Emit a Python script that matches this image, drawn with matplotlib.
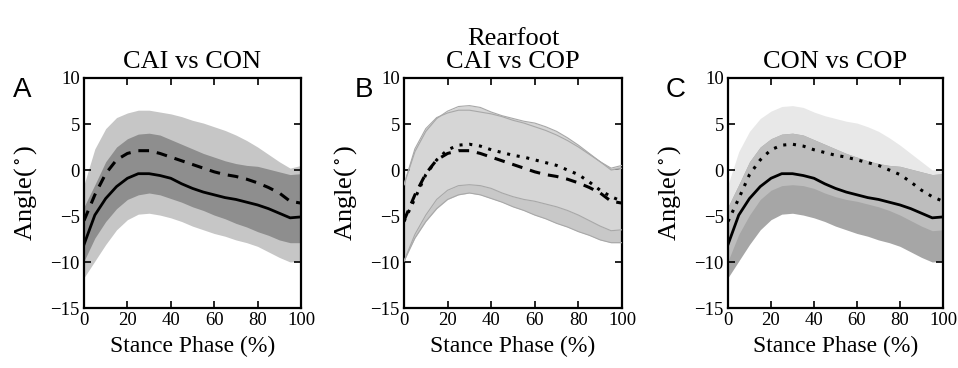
import numpy as np
import matplotlib
matplotlib.use('Agg')
import matplotlib.pyplot as plt

plt.rcParams['font.family'] = ['Liberation Serif', 'DejaVu Serif']
plt.rcParams['mathtext.fontset'] = 'stix'

# stance phase (%)
phase = [0, 5, 10, 15, 20, 25, 30, 35, 40, 45, 50, 55, 60, 65, 70, 75, 80, 85, 90, 95, 100]

# CON group (mean and +/- SD edges)
con_mean = [-8.1, -4.9, -3.1, -1.8, -0.9, -0.4, -0.4, -0.6, -0.9, -1.5, -2.0, -2.4, -2.7, -3.0, -3.2, -3.5, -3.8, -4.2, -4.7, -5.2, -5.1]
con_upper = [-4.0, -1.6, 0.9, 2.5, 3.4, 3.9, 4.0, 3.8, 3.3, 2.8, 2.3, 1.8, 1.4, 1.0, 0.7, 0.5, 0.4, 0.1, -0.2, -0.5, -0.4]
con_lower = [-11.7, -9.9, -8.1, -6.5, -5.4, -4.8, -4.7, -4.9, -5.2, -5.6, -6.1, -6.5, -6.9, -7.2, -7.6, -7.9, -8.3, -8.9, -9.5, -10.0, -9.9]

# CAI group
cai_mean = [-5.5, -2.7, -0.4, 1.1, 1.8, 2.1, 2.1, 1.8, 1.4, 1.0, 0.6, 0.2, -0.2, -0.5, -0.7, -1.0, -1.4, -1.9, -2.5, -3.4, -3.6]
cai_upper = [-1.6, 2.3, 4.5, 5.7, 6.2, 6.5, 6.5, 6.3, 6.1, 5.8, 5.4, 5.1, 4.7, 4.3, 3.8, 3.2, 2.5, 1.7, 0.9, 0.2, 0.5]
cai_lower = [-9.9, -7.4, -5.6, -4.2, -3.2, -2.7, -2.5, -2.7, -3.1, -3.5, -4.0, -4.4, -4.9, -5.3, -5.8, -6.2, -6.7, -7.1, -7.6, -7.9, -7.9]

# COP group
cop_mean = [-5.6, -3.1, -0.5, 1.1, 2.2, 2.7, 2.8, 2.6, 2.2, 1.9, 1.6, 1.4, 1.1, 0.8, 0.5, 0.0, -0.5, -1.3, -2.2, -2.9, -3.4]
cop_upper = [-1.6, 2.0, 4.2, 5.6, 6.4, 6.9, 7.0, 6.8, 6.3, 5.9, 5.6, 5.3, 5.1, 4.7, 4.2, 3.5, 2.7, 1.8, 0.9, 0.0, 0.2]
cop_lower = [-9.9, -7.0, -4.9, -3.2, -2.2, -1.7, -1.6, -1.7, -2.0, -2.5, -2.9, -3.2, -3.4, -3.7, -4.0, -4.4, -4.9, -5.5, -6.1, -6.6, -6.5]

titles = ['CAI vs CON', 'Rearfoot\nCAI vs COP', 'CON vs COP']
letters = ['A', 'B', 'C']

W, H = 958, 368
fig = plt.figure(figsize=(W / 100, H / 100), dpi=100)

def px_axes(left, right, top, bottom):
    return fig.add_axes([left / W, 1 - bottom / H, (right - left) / W, (bottom - top) / H])

styles = {
    'CON': dict(color='black', lw=2.0, ls='-'),
    'CAI': dict(color='black', lw=2.2, ls=(0, (3.5, 2.6))),
    'COP': dict(color='black', lw=2.2, ls=(0, (1, 2.2))),
}
groups = {
    'CON': (con_mean, con_upper, con_lower),
    'CAI': (cai_mean, cai_upper, cai_lower),
    'COP': (cop_mean, cop_upper, cop_lower),
}

# (group1, group2, color1 only, color2 only, overlap colour, edge colour)
panels = [
    ('CAI', 'CON', '#c6c6c6', '#c6c6c6', '#8e8e8e', None),
    ('CAI', 'COP', '#c8c8c8', '#d6d6d6', '#d6d6d6', '#a8a8a8'),
    ('COP', 'CON', '#e8e8e8', '#a6a6a6', '#bdbdbd', None),
]
boxes = [(84, 301, 78, 308), (404, 622, 78, 308), (728, 943, 78, 308)]
letter_pos = [(22, 90), (364, 90), (676, 90)]

x = np.array(phase)
for i, (g1, g2, c1, c2, cov, cedge) in enumerate(panels):
    ax = px_axes(*boxes[i])
    m1, u1, l1 = [np.array(v) for v in groups[g1]]
    m2, u2, l2 = [np.array(v) for v in groups[g2]]
    ax.fill_between(x, l1, u1, color=c1, lw=0, zorder=1)
    ax.fill_between(x, l2, u2, color=c2, lw=0, zorder=1)
    lo = np.maximum(l1, l2)
    hi = np.minimum(u1, u2)
    ax.fill_between(x, lo, hi, where=hi > lo, color=cov, lw=0, zorder=2)
    if cedge:
        for e in (u1, l1, u2, l2):
            ax.plot(x, e, color=cedge, lw=0.8, zorder=3)
    ax.plot(x, m1, zorder=4, **styles[g1])
    ax.plot(x, m2, zorder=4, **styles[g2])

    ax.set_xlim(0, 100)
    ax.set_ylim(-15, 10)
    ax.set_xticks([0, 20, 40, 60, 80, 100])
    ax.set_yticks([-15, -10, -5, 0, 5, 10])
    ax.tick_params(direction='in', top=True, right=True, length=5, width=1.2,
                   labelsize=13.5, pad=3)
    for s in ax.spines.values():
        s.set_linewidth(1.6)
    ax.set_title(titles[i], fontsize=19, pad=7, linespacing=1.1)
    ax.set_xlabel('Stance Phase (%)', fontsize=17, labelpad=5)
    ax.set_ylabel(r'Angle($^\circ$)', fontsize=19, labelpad=8)
    lx, ly = letter_pos[i]
    fig.text(lx / W, 1 - ly / H, letters[i], fontsize=20, family='Liberation Sans',
             ha='center', va='center')

fig.savefig('out.png', dpi=100)
